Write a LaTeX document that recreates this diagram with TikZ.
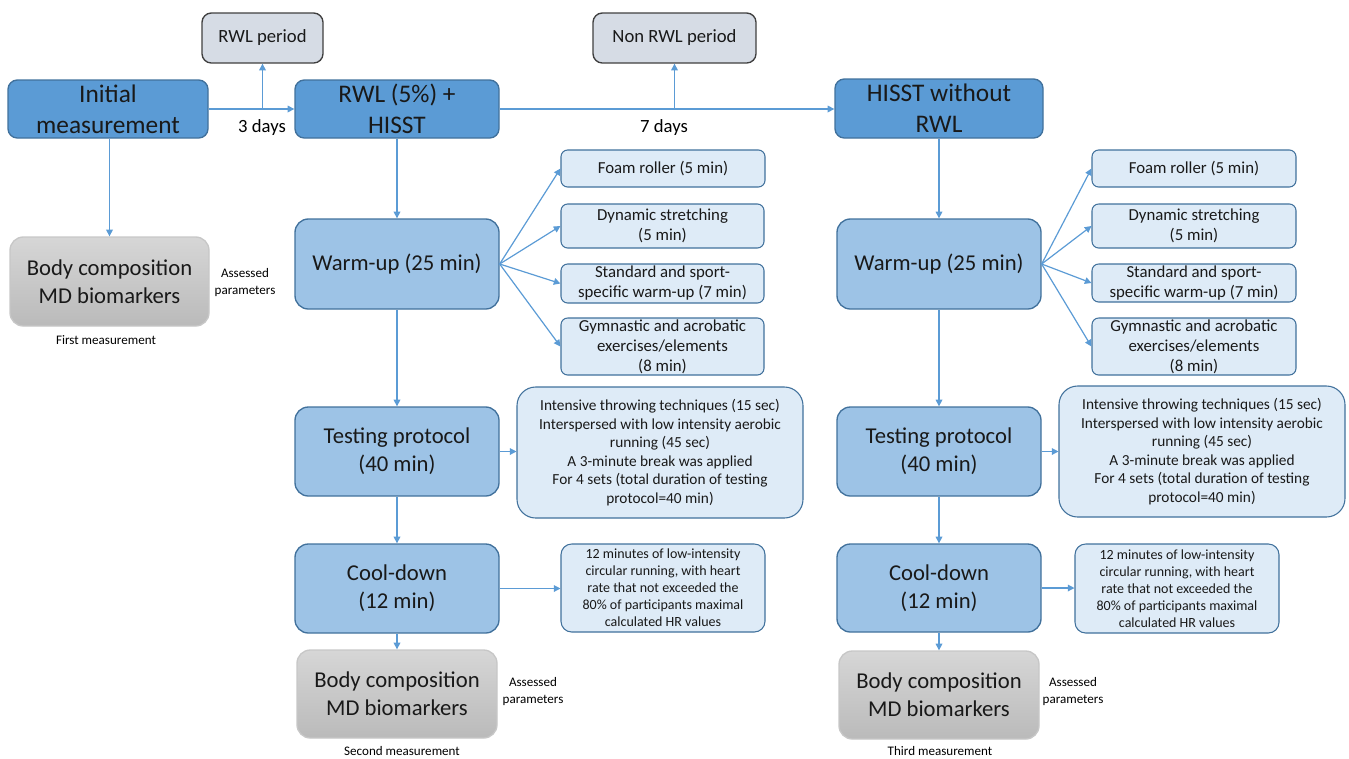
\documentclass[tikz,border=0pt]{standalone}
\usepackage{fontspec}
\setmainfont{Carlito}
\usetikzlibrary{arrows.meta}
\definecolor{darkblue}{HTML}{5B9BD5}
\definecolor{midblue}{HTML}{9DC3E6}
\definecolor{lightblue}{HTML}{DEEBF7}
\definecolor{edgeblue}{HTML}{41719C}
\definecolor{periodfill}{HTML}{D6DCE5}
\definecolor{arrowc}{HTML}{5B9BD5}
\newcommand\bx[7]{\node[#1, minimum width={(#4-#2)*0.75pt}, minimum height={(#5-#3)*0.75pt}] (#6) at ({(#2+#4)/2},{(#3+#5)/2}) {#7};}
\tikzset{
  basebox/.style={draw, rounded corners=7pt, align=center, inner sep=0pt, line width=1pt, text=black!90},
  topbox/.style={basebox, fill=darkblue, draw=edgeblue, font=\fontsize{19}{23}\selectfont},
  periodbox/.style={basebox, fill=periodfill, draw=black!75, font=\fontsize{14}{17}\selectfont},
  stepbox/.style={basebox, fill=midblue, draw=edgeblue, rounded corners=10pt, font=\fontsize{17}{21}\selectfont},
  subbox/.style={basebox, fill=lightblue, draw=edgeblue, line width=0.8pt, rounded corners=5pt, font=\fontsize{12.6}{15}\selectfont},
  detbox/.style={basebox, fill=lightblue, draw=edgeblue, line width=0.8pt, rounded corners=14pt, font=\fontsize{11.5}{13.9}\selectfont},
  coolbox/.style={basebox, fill=lightblue, draw=edgeblue, line width=0.8pt, rounded corners=8pt, font=\fontsize{10.5}{12.75}\selectfont},
  graybox/.style={basebox, top color=black!16, bottom color=black!27, draw=black!22, rounded corners=10pt, font=\fontsize{17}{21}\selectfont},
  smalltxt/.style={align=center, inner sep=0pt, font=\fontsize{9.8}{12.75}\selectfont},
  daytxt/.style={inner sep=0pt, font=\fontsize{14}{17}\selectfont},
  arr/.style={draw=arrowc, line width=0.9pt, -{Triangle[length=5pt,width=5pt]}},
}
\begin{document}
\begin{tikzpicture}[x=0.75pt,y=-0.75pt]
\useasboundingbox (0,0) rectangle (1349,758);
% top row
\bx{topbox}{8}{80}{208}{138}{init}{Initial\\measurement}
\bx{periodbox}{202}{13}{323}{63}{rwlp}{RWL period}
\bx{topbox}{295}{80}{499}{138}{rwl}{RWL (5\%) +\\HISST}
\bx{periodbox}{593}{13}{756}{63}{nrwlp}{Non RWL period}
\bx{topbox}{835}{79}{1043}{138}{hisst}{HISST without\\RWL}
\node[daytxt] (d3) at (262,128) {3 days};
\node[daytxt] (d7) at (664,128) {7 days};
\draw[arr] (init.east) -- (init.east -| rwl.west);
\coordinate (j1) at (rwlp.south |- init.east);
\draw[arr] (j1) -- (rwlp.south);
\draw[arr] (rwl.east) -- (rwl.east -| hisst.west);
\coordinate (j2) at (nrwlp.south |- rwl.east);
\draw[arr] (j2) -- (nrwlp.south);
% column 1
\bx{graybox}{10}{237}{209}{326}{bc1}{Body composition\\MD biomarkers}
\node[smalltxt] (ap1) at (245,283) {Assessed\\parameters};
\node[smalltxt] (fm) at (106,340) {First measurement};
\draw[arr] (init.south -| bc1.north) -- (bc1.north);
% column 2
\bx{stepbox}{295}{219}{499}{309}{wu2}{Warm-up (25 min)}
\bx{subbox}{561}{150}{765}{187}{fr2}{Foam roller (5 min)}
\bx{subbox}{561}{204}{764}{248}{ds2}{Dynamic stretching\\(5 min)}
\bx{subbox}{561}{264}{764}{303}{ss2}{Standard and sport-\\specific warm-up (7 min)}
\bx{subbox}{561}{318}{764}{375}{ga2}{Gymnastic and acrobatic\\exercises/elements\\(8 min)}
\bx{stepbox}{295}{407}{499}{496}{tp2}{Testing protocol\\(40 min)}
\bx{detbox}{517}{387}{803}{518}{td2}{Intensive throwing techniques (15 sec)\\Interspersed with low intensity aerobic\\running (45 sec)\\A 3-minute break was applied\\For 4 sets (total duration of testing\\protocol=40 min)}
\bx{stepbox}{295}{544}{499}{633}{cd2}{Cool-down\\(12 min)}
\bx{coolbox}{561}{544}{765}{632}{cdd2}{12 minutes of low-intensity\\circular running, with heart\\rate that not exceeded the\\80\% of participants maximal\\calculated HR values}
\bx{graybox}{297}{650}{497}{738}{bc2}{Body composition\\MD biomarkers}
\node[smalltxt] (ap2) at (533,692) {Assessed\\parameters};
\node[smalltxt] (sm) at (402,751) {Second measurement};
\draw[arr] (rwl.south) -- (wu2.north);
\foreach \t in {fr2,ds2,ss2,ga2} \draw[arr] (wu2.east) -- (\t.west);
\draw[arr] (wu2.south) -- (tp2.north);
\draw[arr] (tp2.east) -- (tp2.east -| td2.west);
\draw[arr] (tp2.south) -- (cd2.north);
\draw[arr] (cd2.east) -- (cd2.east -| cdd2.west);
\draw[arr] (cd2.south) -- (bc2.north);
% column 3
\bx{stepbox}{837}{219}{1041}{309}{wu3}{Warm-up (25 min)}
\bx{subbox}{1092}{150}{1296}{187}{fr3}{Foam roller (5 min)}
\bx{subbox}{1092}{204}{1296}{248}{ds3}{Dynamic stretching\\(5 min)}
\bx{subbox}{1092}{264}{1296}{302}{ss3}{Standard and sport-\\specific warm-up (7 min)}
\bx{subbox}{1092}{318}{1296}{375}{ga3}{Gymnastic and acrobatic\\exercises/elements\\(8 min)}
\bx{stepbox}{837}{407}{1041}{496}{tp3}{Testing protocol\\(40 min)}
\bx{detbox}{1059}{386}{1345}{517}{td3}{Intensive throwing techniques (15 sec)\\Interspersed with low intensity aerobic\\running (45 sec)\\A 3-minute break was applied\\For 4 sets (total duration of testing\\protocol=40 min)}
\bx{stepbox}{837}{544}{1041}{632}{cd3}{Cool-down\\(12 min)}
\bx{coolbox}{1075}{544}{1279}{633}{cdd3}{12 minutes of low-intensity\\circular running, with heart\\rate that not exceeded the\\80\% of participants maximal\\calculated HR values}
\bx{graybox}{839}{651}{1039}{739}{bc3}{Body composition\\MD biomarkers}
\node[smalltxt] (ap3) at (1073,692) {Assessed\\parameters};
\node[smalltxt] (tm) at (940,751) {Third measurement};
\draw[arr] (hisst.south -| wu3.north) -- (wu3.north);
\foreach \t in {fr3,ds3,ss3,ga3} \draw[arr] (wu3.east) -- (\t.west);
\draw[arr] (wu3.south) -- (tp3.north);
\draw[arr] (tp3.east) -- (tp3.east -| td3.west);
\draw[arr] (tp3.south) -- (cd3.north);
\draw[arr] (cd3.east) -- (cd3.east -| cdd3.west);
\draw[arr] (cd3.south) -- (bc3.north);
\end{tikzpicture}
\end{document}
